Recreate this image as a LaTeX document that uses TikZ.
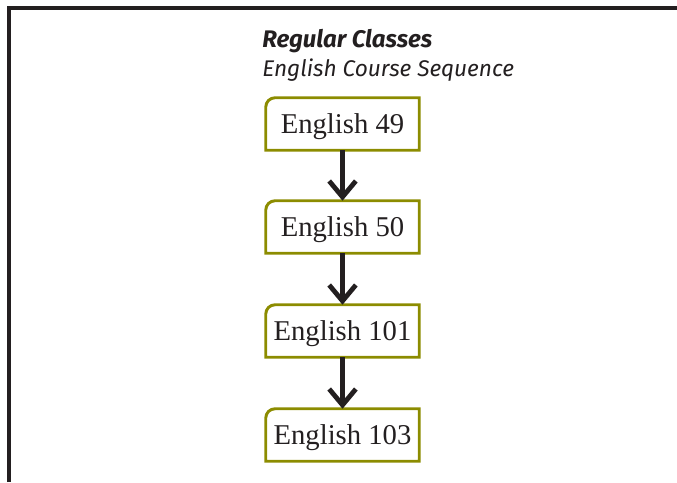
\documentclass[tikz,border=0pt]{standalone}
\usepackage{fontspec}
\setmainfont{Liberation Serif}
\newfontfamily\headfont{Fira Sans}
\usetikzlibrary{arrows.meta}
\definecolor{courseolive}{RGB}{140,140,0}
\definecolor{inkblack}{RGB}{35,31,32}
\tikzset{
  course/.style={minimum width=114.75pt,minimum height=39pt,inner sep=0pt,
    text depth=1pt,font=\fontsize{21.5}{24}\selectfont,text=inkblack},
  coursebox/.style={line width=2.2pt,draw=courseolive},
  nextcourse/.style={line width=3.6pt,inkblack,-{Straight Barb[length=12pt,width=20pt]}},
}

\begin{document}
\begin{tikzpicture}[x=0.75pt,y=-0.75pt]
  \useasboundingbox (0,0) rectangle (677,482);
  % frame
  \draw[line width=2.4pt,inkblack] (9,482)--(9,8)--(677,8);
  % heading
  \node[anchor=base west,inner sep=0pt,text=inkblack,
    font=\headfont\bfseries\itshape\fontsize{18}{20}\selectfont] (title) at (262,47) {Regular Classes};
  \node[anchor=base west,inner sep=0pt,text=inkblack,
    font=\headfont\itshape\fontsize{17}{20}\selectfont] (subtitle) at (262,76) {English Course Sequence};
  % courses
  \node[course] (e49) at (342.5,124) {English 49};
  \node[course] (e50) at (342.5,227) {English 50};
  \node[course] (e101) at (342.5,331) {English 101};
  \node[course] (e103) at (342.5,435) {English 103};
  \foreach \n in {e49,e50,e101,e103}
    \draw[coursebox] (\n.south west) -- ([yshift=-7pt]\n.north west)
      arc[start angle=180,end angle=90,radius=7pt] -- (\n.north east)
      -- (\n.south east) -- cycle;
  % sequence arrows
  \draw[nextcourse] (e49) -- (e50);
  \draw[nextcourse] (e50) -- (e101);
  \draw[nextcourse] (e101) -- (e103);
\end{tikzpicture}
\end{document}
